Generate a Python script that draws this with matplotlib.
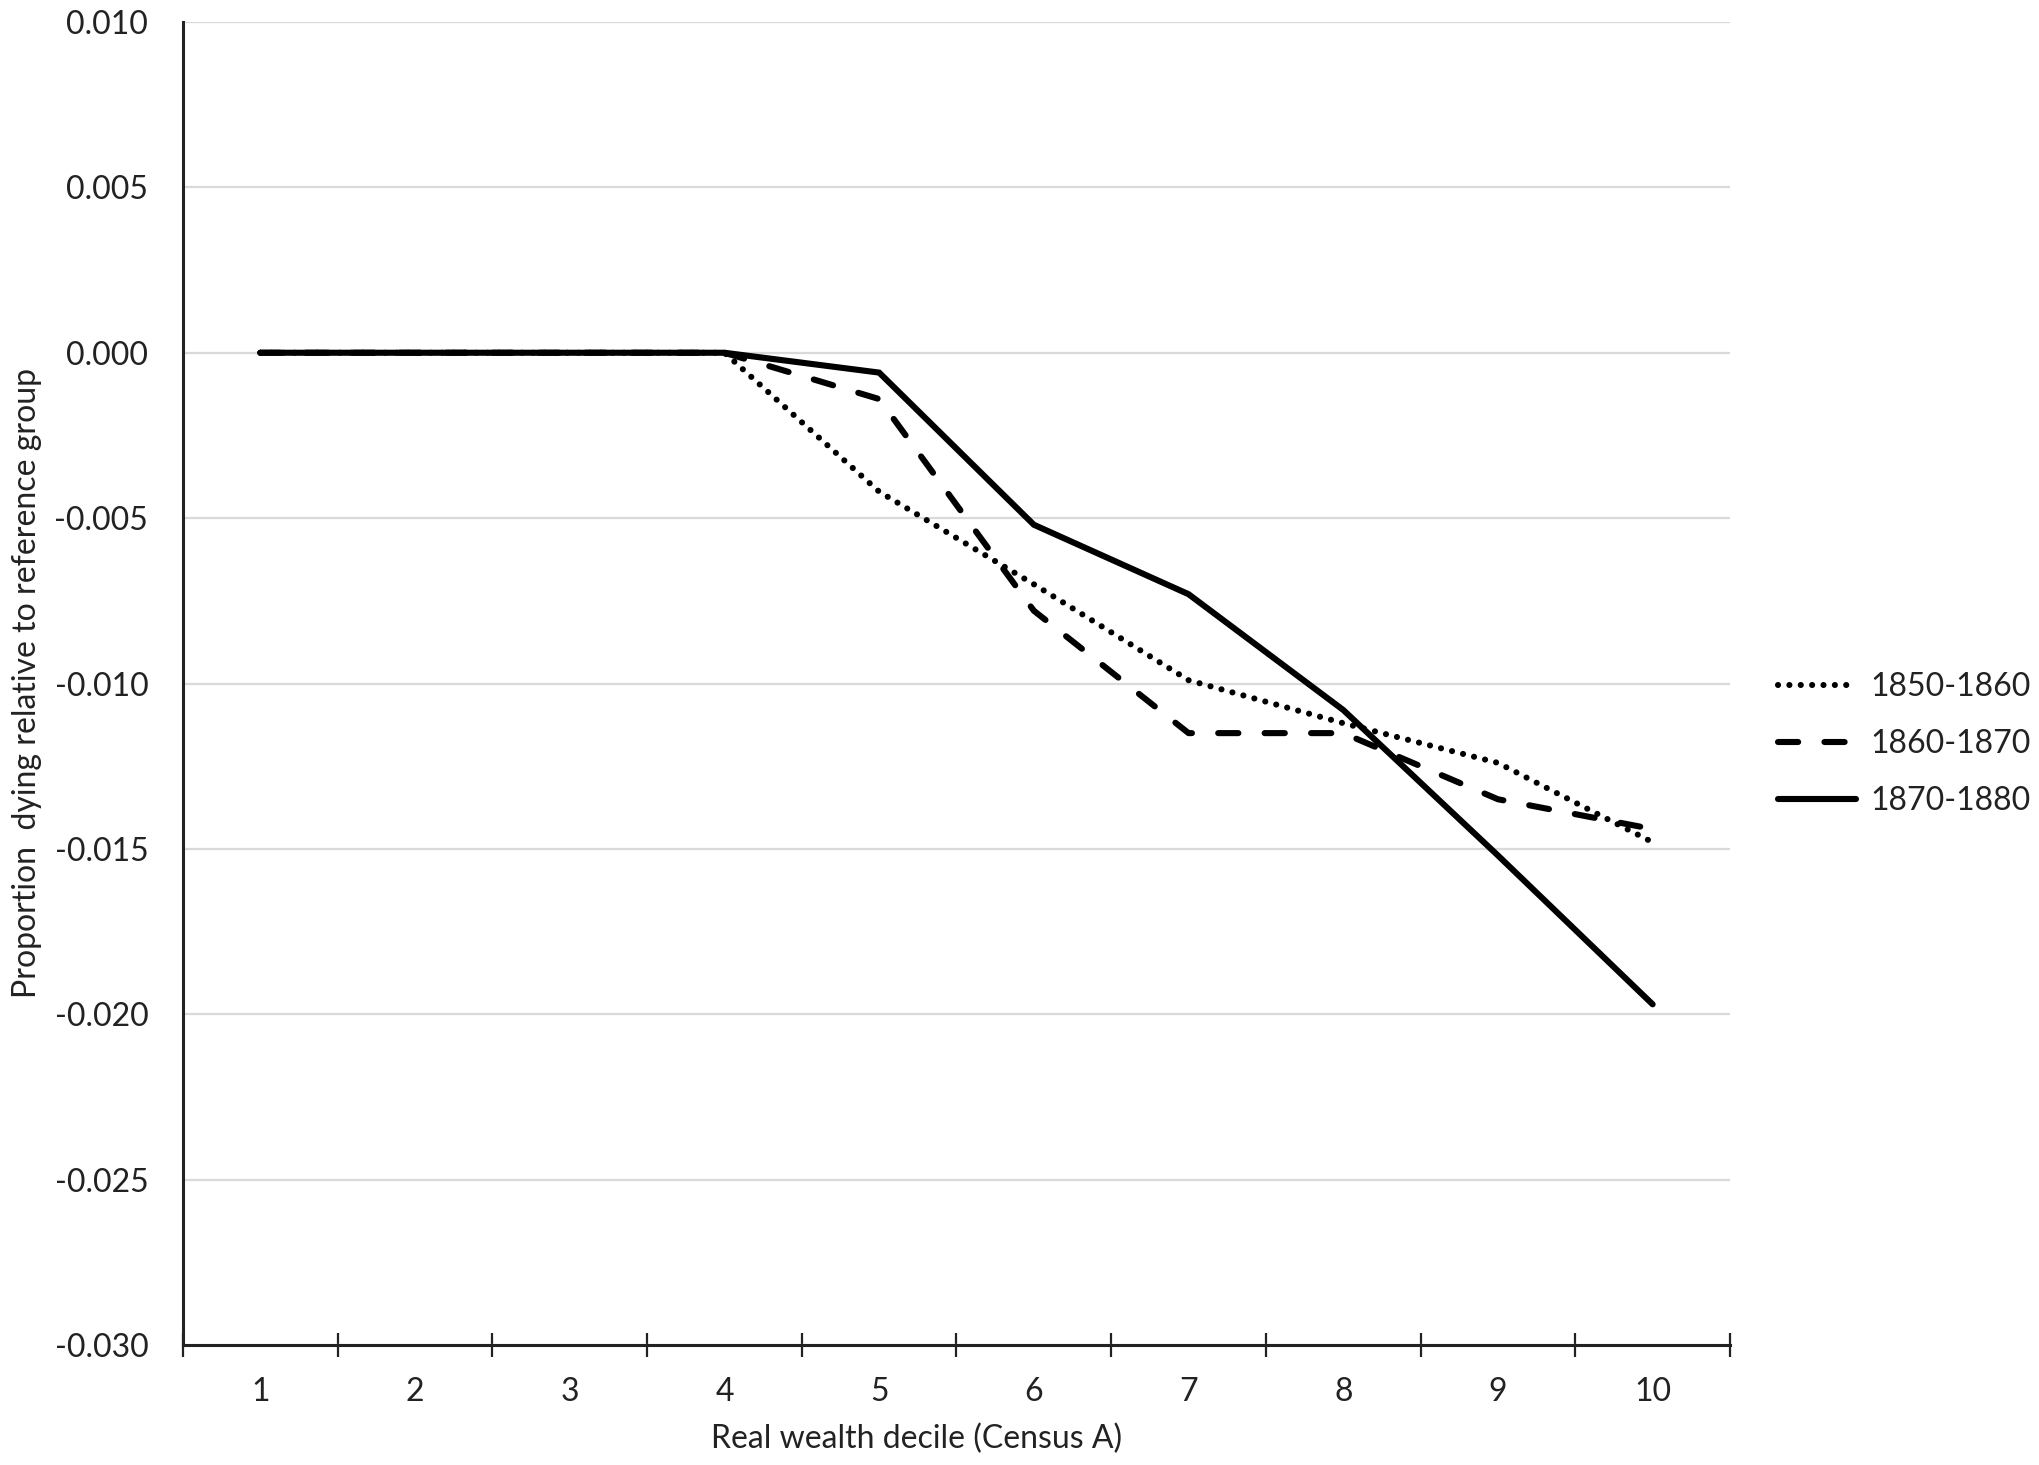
import matplotlib
matplotlib.use("Agg")
import matplotlib.pyplot as plt

# decile values
deciles = [1, 2, 3, 4, 5, 6, 7, 8, 9, 10]
p1850_1860 = [0, 0, 0, 0, -0.0042, -0.0070, -0.0099, -0.0112, -0.0124, -0.0148]
p1860_1870 = [0, 0, 0, 0, -0.0014, -0.0078, -0.0115, -0.0115, -0.0135, -0.0144]
p1870_1880 = [0, 0, 0, 0, -0.0006, -0.0052, -0.0073, -0.0108, -0.0152, -0.0197]
series_labels = ["1850-1860", "1860-1870", "1870-1880"]
y_ticks = [0.010, 0.005, 0.000, -0.005, -0.010, -0.015, -0.020, -0.025, -0.030]

plt.rcParams["font.family"] = ["Lato", "DejaVu Sans"]
plt.rcParams["font.size"] = 23

W, H = 2040, 1465
fig = plt.figure(figsize=(W / 100, H / 100), dpi=100)
ax = fig.add_axes([183 / W, 1 - 1345 / H, (1730 - 183) / W, (1345 - 22) / H])

lw = 4.4
ax.plot(deciles, p1850_1860, color="black", linewidth=lw, linestyle=(0, (0.01, 1.85)),
        dash_capstyle="round", solid_capstyle="round", label=series_labels[0], zorder=3)
ax.plot(deciles, p1860_1870, color="black", linewidth=lw, linestyle=(0, (3.3, 4.3)),
        dash_capstyle="round", label=series_labels[1], zorder=3)
ax.plot(deciles, p1870_1880, color="black", linewidth=lw, linestyle="-",
        solid_capstyle="round", solid_joinstyle="miter", label=series_labels[2], zorder=3)

ax.set_xlim(0.5, 10.5)
ax.set_ylim(-0.030, 0.010)
ax.set_yticks(y_ticks)
ax.set_yticklabels([f"{v:.3f}" for v in y_ticks], color="#222222")
ax.set_xticks(deciles)
ax.set_xticklabels([str(d) for d in deciles], color="#222222")
ax.set_xticks([d + 0.5 for d in range(0, 11)], minor=True)

ax.tick_params(axis="y", length=0, pad=25)
ax.tick_params(axis="x", which="major", length=0, pad=23)
ax.tick_params(axis="x", which="minor", direction="inout", length=17, width=1.6, color="#222222")

ax.grid(True, axis="y", color="#d9d9d9", linewidth=1.6, zorder=0)
ax.set_axisbelow(True)
for side in ("top", "right"):
    ax.spines[side].set_visible(False)
for side in ("left", "bottom"):
    ax.spines[side].set_linewidth(2.2)
    ax.spines[side].set_color("#222222")
    ax.spines[side].set_zorder(4)

fig.text(27 / W, 1 - 683 / H, "Proportion  dying relative to reference group",
         rotation=90, ha="center", va="center", color="#222222")
fig.text(917 / W, 1 - 1439 / H, "Real wealth decile (Census A)",
         ha="center", va="center", color="#222222")

leg = ax.legend(loc="center left", bbox_to_anchor=(1778 / W, 1 - 744 / H),
                bbox_transform=fig.transFigure, frameon=False, borderpad=0,
                borderaxespad=0, handlelength=2.45, handletextpad=0.45,
                labelspacing=0.85)
for text in leg.get_texts():
    text.set_color("#222222")

fig.savefig("out.png", dpi=100)
